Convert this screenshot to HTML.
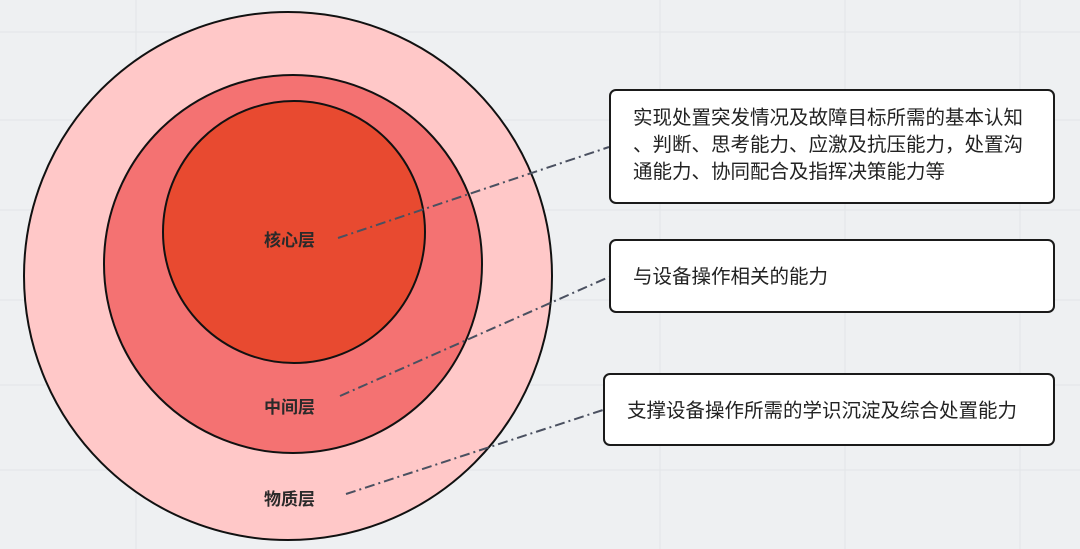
<!DOCTYPE html>
<html><head><meta charset="utf-8"><style>
html,body{margin:0;padding:0;}
body{width:1080px;height:549px;overflow:hidden;background:#eef0f2;position:relative;font-family:"Liberation Sans","Noto Sans CJK SC",sans-serif;}
.box{position:absolute;background:#fff;border:2px solid #1a1a1a;border-radius:7px;box-sizing:border-box;font-size:19.5px;color:#222;}
.lbl{position:absolute;font-size:17px;font-weight:bold;color:#2a2a2a;}
</style></head><body>
<svg width="1080" height="549" style="position:absolute;left:0;top:0">
<g stroke="#e2e5e8" stroke-width="1">
<line x1="136" y1="0" x2="136" y2="549"/><line x1="0" y1="32" x2="1080" y2="32"/>
<line x1="0" y1="120" x2="1080" y2="120"/><line x1="0" y1="210" x2="1080" y2="210"/>
<line x1="0" y1="300" x2="1080" y2="300"/><line x1="0" y1="385" x2="1080" y2="385"/>
<line x1="0" y1="470" x2="1080" y2="470"/><line x1="660" y1="0" x2="660" y2="549"/>
<line x1="845" y1="0" x2="845" y2="549"/><line x1="1020" y1="0" x2="1020" y2="549"/>
</g>
<circle cx="288" cy="276" r="264" fill="#ffc8c8" stroke="#111" stroke-width="2"/>
<circle cx="293" cy="264" r="189" fill="#f47272" stroke="#111" stroke-width="2"/>
<circle cx="294" cy="232" r="131" fill="#e84a30" stroke="#111" stroke-width="2"/>
<g stroke="#4a5060" stroke-width="2" stroke-dasharray="10,4,2,4" fill="none">
<line x1="338" y1="238" x2="609" y2="147"/>
<line x1="340" y1="396" x2="609" y2="277"/>
<line x1="346" y1="494" x2="603" y2="410"/>
</g>
</svg>
<div class="lbl" style="left:264px;top:226px">核心层</div>
<div class="lbl" style="left:264px;top:393px">中间层</div>
<div class="lbl" style="left:264px;top:485px">物质层</div>
<div class="box" style="left:609px;top:89px;width:446px;height:115px;padding:14px 0 0 22px;line-height:27px">实现处置突发情况及故障目标所需的基本认知<br>、判断、思考能力、应激及抗压能力，处置沟<br>通能力、协同配合及指挥决策能力等</div>
<div class="box" style="left:609px;top:239px;width:446px;height:74px;padding:23px 0 0 22px;line-height:27px">与设备操作相关的能力</div>
<div class="box" style="left:603px;top:373px;width:452px;height:73px;padding:23px 0 0 22px;line-height:27px">支撑设备操作所需的学识沉淀及综合处置能力</div>
</body></html>
